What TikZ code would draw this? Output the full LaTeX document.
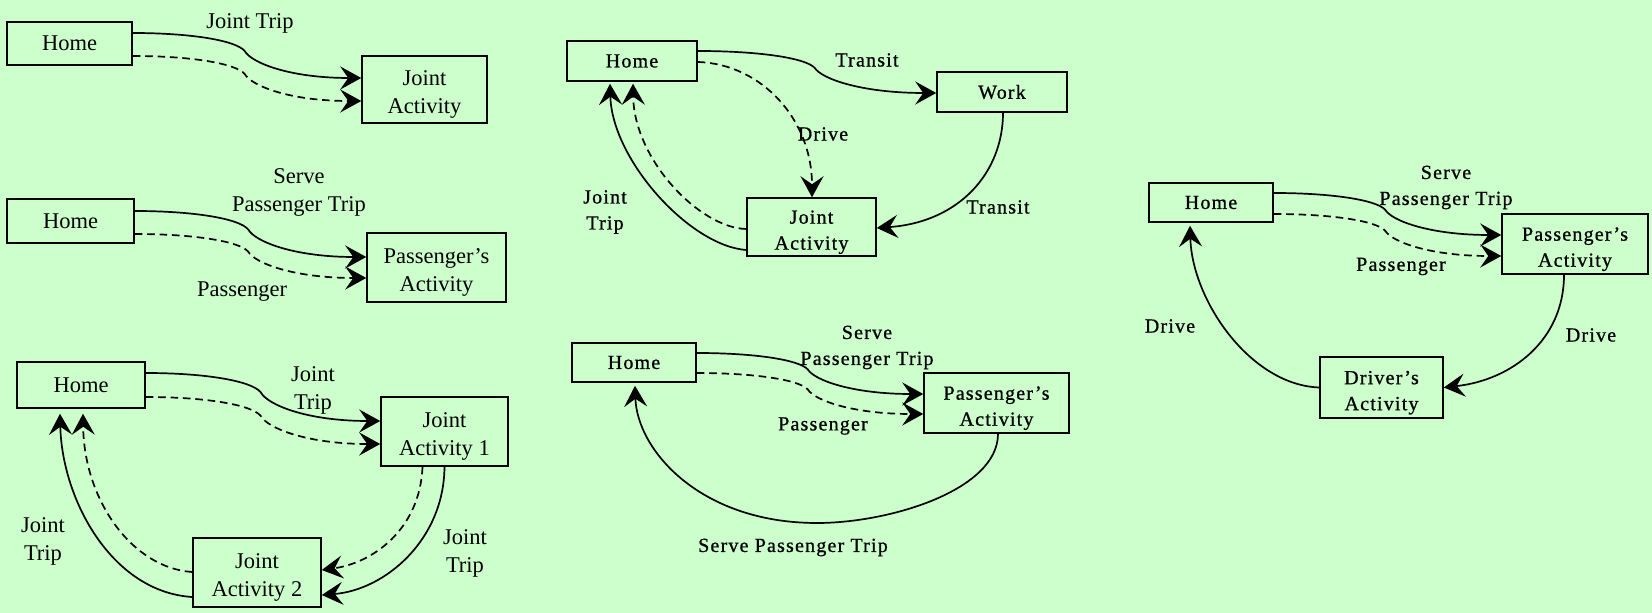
\documentclass[tikz,border=0pt]{standalone}
\usepackage{fontspec}
\setmainfont{Liberation Serif}
\newfontfamily\widefont[LetterSpace=6,FakeBold=0.8]{Liberation Serif}
\usetikzlibrary{arrows.meta,calc}
\definecolor{mint}{RGB}{204,255,204}

% S-shaped flow with a small kink half way, from #2 to #3, drawn with style #1
\newcommand\sflow[3]{%
  \draw[#1] let \p1=(#2), \p2=(#3) in (\p1)
    .. controls ({\x1+0.25*(\x2-\x1)},{\y1}) and ({\x1+0.45*(\x2-\x1)},{\y1+0.16*(\y2-\y1)})
    .. ({\x1+0.49*(\x2-\x1)},{\y1+0.4*(\y2-\y1)})
    .. controls ({\x1+0.52*(\x2-\x1)},{\y1+0.67*(\y2-\y1)}) and ({\x1+0.69*(\x2-\x1)},{\y2})
    .. (\p2);}

\tikzset{
  lt/.style={font=\fontsize{11.25}{14}\selectfont, align=center, inner sep=0pt},
  rt/.style={font=\widefont\fontsize{10}{13}\selectfont, align=center, inner sep=0pt},
  box/.style={draw, line width=0.75pt, inner sep=0pt},
  flow/.style={line width=0.85pt, -{Stealth[length=10.5pt,width=11.5pt,inset=4pt]}},
  alt/.style={flow, dash pattern=on 3.8pt off 2.4pt},
  twoline/.style={yshift=-2.6pt},
}

\begin{document}
\begin{tikzpicture}[x=0.5pt,y=-0.5pt]
\fill[mint] (0,0) rectangle (1652,613);
\useasboundingbox (0,0) rectangle (1652,613);

% ---------- joint activity ----------
\node[box, lt, minimum width=62.5pt, minimum height=21.5pt] (h1) at (69.5,43.5) {Home};
\node[box, minimum width=62.5pt, minimum height=33.5pt,
      label={[lt, twoline]center:Joint\\Activity}] (ja) at (424.5,89.5) {};
\sflow{flow}{$(h1.east)+(0,-10.5)$}{$(ja.west)+(0,-11.5)$}
\sflow{alt}{$(h1.east)+(0,12.5)$}{$(ja.west)+(0,11.5)$}
\node[lt] (tA) at (250,23) {Joint Trip};

% ---------- serve passenger ----------
\node[box, lt, minimum width=63.5pt, minimum height=22pt] (h2) at (70.5,221) {Home};
\node[box, minimum width=69.5pt, minimum height=34.5pt,
      label={[lt, twoline]center:Passenger’s\\Activity}] (pa2) at (436.5,267.5) {};
\sflow{flow}{$(h2.east)+(0,-10)$}{$(pa2.west)+(0,-10.5)$}
\sflow{alt}{$(h2.east)+(0,13)$}{$(pa2.west)+(0,10.5)$}
\node[lt] (tB1) at (299,192) {Serve\\Passenger Trip};
\node[lt] (tB2) at (242,292) {Passenger};

% ---------- two joint activities ----------
\node[box, lt, minimum width=64pt, minimum height=23pt] (h3) at (81,385) {Home};
\node[box, minimum width=63.5pt, minimum height=34.5pt,
      label={[lt, twoline]center:Joint\\Activity 1}] (j1) at (444.5,431.5) {};
\node[box, minimum width=64pt, minimum height=34.5pt,
      label={[lt, twoline]center:Joint\\Activity 2}] (j2) at (257,572.5) {};
\sflow{flow}{$(h3.east)+(0,-12)$}{$(j1.west)+(0,-10.5)$}
\sflow{alt}{$(h3.east)+(0,12)$}{$(j1.west)+(0,12.5)$}
\draw[flow] (j1.south) .. controls (444,540) and (385,590) .. ($(j2.east)+(0,22.5)$);
\draw[alt] ($(j1.south)+(-22,0)$) .. controls (420,530) and (372,563) .. ($(j2.east)+(0,-2.5)$);
\draw[flow] ($(j2.west)+(0,24.5)$) .. controls (112,592) and (62,500) .. ($(h3.south)+(-21,5)$);
\draw[alt] ($(j2.west)+(0,-0.5)$) .. controls (132,568) and (84,500) .. ($(h3.south)+(2,5)$);
\node[lt] (tC1) at (313,390) {Joint\\Trip};
\node[lt] (tC2) at (465,553) {Joint\\Trip};
\node[lt] (tC3) at (43,541) {Joint\\Trip};

% ---------- transit to work ----------
\node[box, rt, minimum width=65pt, minimum height=20pt] (h4) at (632,61) {Home};
\node[box, rt, minimum width=65pt, minimum height=20pt] (wk) at (1002,92) {Work};
\node[box, minimum width=64.5pt, minimum height=29pt,
      label={[rt, twoline]center:Joint\\Activity}] (ja4) at (811.5,227) {};
\sflow{flow}{$(h4.east)+(0,-10)$}{$(wk.west)+(0,1)$}
\draw[alt] ($(h4.east)+(0,1)$) .. controls (762,64) and (812,120) .. ($(ja4.north)+(0.5,0)$);
\draw[flow] ($(wk.south)+(1,0)$) .. controls (1003,172) and (960,222) .. ($(ja4.east)+(0,1)$);
\draw[flow] ($(ja4.west)+(0,23)$) .. controls (690,246) and (612,160) .. ($(h4.south)+(-22,2)$);
\draw[alt] ($(ja4.west)+(0,2)$) .. controls (700,228) and (634,160) .. ($(h4.south)+(1,2)$);
\node[rt] (tD1) at (867,60) {Transit};
\node[rt] (tD2) at (823,134) {Drive};
\node[rt] (tD3) at (998,207) {Transit};
\node[rt] (tD4) at (605,212) {Joint\\Trip};

% ---------- round trip serving a passenger ----------
\node[box, rt, minimum width=62pt, minimum height=19.5pt] (h5) at (634,362.5) {Home};
\node[box, minimum width=72.5pt, minimum height=30pt,
      label={[rt, twoline]center:Passenger’s\\Activity}] (pa5) at (996.5,403) {};
\sflow{flow}{$(h5.east)+(0,-9.5)$}{$(pa5.west)+(0,-9)$}
\sflow{alt}{$(h5.east)+(0,10.5)$}{$(pa5.west)+(0,11)$}
\draw[flow] ($(pa5.south)+(1.5,0)$) .. controls (998,490) and (890,523) .. (817,523)
  .. controls (700,523) and (637,450) .. ($(h5.south)+(1,3)$);
\node[rt] (tE1) at (867,347.5) {Serve\\Passenger Trip};
\node[rt] (tE2) at (823,426) {Passenger};
\node[rt] (tE3) at (793,547.5) {Serve Passenger Trip};

% ---------- driver continues to own activity ----------
\node[box, rt, minimum width=62pt, minimum height=19.5pt] (h6) at (1211,202.5) {Home};
\node[box, minimum width=73pt, minimum height=30pt,
      label={[rt, twoline]center:Passenger’s\\Activity}] (pa6) at (1575,244) {};
\node[box, minimum width=61.5pt, minimum height=30.5pt,
      label={[rt, twoline]center:Driver’s\\Activity}] (da6) at (1381.5,387.5) {};
\sflow{flow}{$(h6.east)+(0,-9.5)$}{$(pa6.west)+(0,-9)$}
\sflow{alt}{$(h6.east)+(0,11.5)$}{$(pa6.west)+(0,12)$}
\draw[flow] ($(pa6.south)+(-11,0)$) .. controls (1564,340) and (1512,380) .. (da6.east);
\draw[flow] (da6.west) .. controls (1250,385) and (1192,300) .. ($(h6.south)+(-21,3)$);
\node[rt] (tF1) at (1446,187.5) {Serve\\Passenger Trip};
\node[rt] (tF2) at (1401,266.5) {Passenger};
\node[rt] (tF3) at (1591,335) {Drive};
\node[rt] (tF4) at (1170,326) {Drive};
\end{tikzpicture}
\end{document}
